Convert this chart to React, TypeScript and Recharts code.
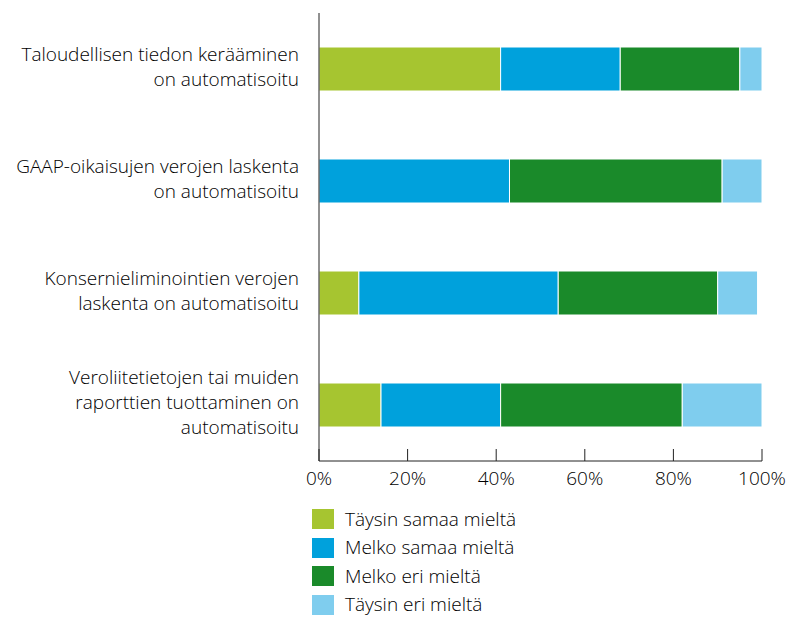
import { Bar, BarChart, Legend, XAxis, YAxis } from "recharts";

const categories = [
  "Taloudellisen tiedon kerääminen on automatisoitu",
  "GAAP-oikaisujen verojen laskenta on automatisoitu",
  "Konsernieliminointien verojen laskenta on automatisoitu",
  "Veroliitetietojen tai muiden raporttien tuottaminen on automatisoitu",
];

// how the category labels wrap in the picture
const categoryLines = [
  ["Taloudellisen tiedon kerääminen", "on automatisoitu"],
  ["GAAP-oikaisujen verojen laskenta", "on automatisoitu"],
  ["Konsernieliminointien verojen", "laskenta on automatisoitu"],
  ["Veroliitetietojen tai muiden", "raporttien tuottaminen on", "automatisoitu"],
];

const taysinSamaa = [41, 0, 9, 14];
const melkoSamaa = [27, 43, 45, 27];
const melkoEri = [27, 48, 36, 41];
const taysinEri = [5, 10, 9, 18];

const percentTicks = [0, 20, 40, 60, 80, 100];

const series = [
  { key: "taysinSamaa", name: "Täysin samaa mieltä", color: "#a6c530", values: taysinSamaa },
  { key: "melkoSamaa", name: "Melko samaa mieltä", color: "#00a1dc", values: melkoSamaa },
  { key: "melkoEri", name: "Melko eri mieltä", color: "#1a8a2a", values: melkoEri },
  { key: "taysinEri", name: "Täysin eri mieltä", color: "#7fcdee", values: taysinEri },
];

const data = categories.map((name, i) => {
  const row: Record<string, string | number> = { name };
  series.forEach((s) => {
    row[s.key] = s.values[i];
  });
  return row;
});

const FONT = "'Open Sans', 'DejaVu Sans', sans-serif";
const TEXT = "#000";

function CategoryTick({ x, y, index }: any) {
  const lines = categoryLines[index] ?? [];
  const lineHeight = 25;
  const start = -((lines.length - 1) * lineHeight) / 2 - 1;
  return (
    <text
      x={x}
      y={y}
      textAnchor="end"
      fontFamily={FONT}
      fontWeight={300}
      fontSize={19}
      fill={TEXT}
    >
      {lines.map((line, i) => (
        <tspan key={i} x={x} y={y + start + i * lineHeight + 5}>
          {line}
        </tspan>
      ))}
    </text>
  );
}

function PercentTick({ x, y, payload }: any) {
  return (
    <g>
      <line x1={x} x2={x} y1={y} y2={y - 12} stroke="#222" strokeWidth={1} />
      <text
        x={x}
        y={y + 24}
        textAnchor="middle"
        fontFamily={FONT}
        fontWeight={300}
        fontSize={19}
        fill={TEXT}
      >
        {payload.value}%
      </text>
    </g>
  );
}

function LegendList() {
  return (
    <div style={{ fontFamily: FONT, fontWeight: 300, fontSize: 19, color: TEXT, lineHeight: 1 }}>
      {series.map((s) => (
        <div key={s.key} style={{ display: "flex", alignItems: "center", height: 28.5 }}>
          <span style={{ width: 22, height: 20, background: s.color, marginRight: 11 }} />
          <span>{s.name}</span>
        </div>
      ))}
    </div>
  );
}

export default function App() {
  return (
    <div style={{ position: "absolute", left: 0, top: 0, background: "#fff" }}>
      <BarChart
        width={803}
        height={619}
        data={data}
        layout="vertical"
        margin={{ top: 13, right: 41, bottom: 0, left: 0 }}
      >
        <XAxis
          type="number"
          domain={[0, 100]}
          ticks={percentTicks}
          allowDataOverflow
          height={158}
          tickSize={0}
          tickMargin={0}
          tickLine={false}
          axisLine={{ stroke: "#222" }}
          tick={<PercentTick />}
          interval={0}
        />
        <YAxis
          type="category"
          dataKey="name"
          width={319}
          tickSize={0}
          tickMargin={20}
          tickLine={false}
          axisLine={{ stroke: "#222" }}
          tick={<CategoryTick />}
          interval={0}
        />
        <Legend
          layout="vertical"
          align="center"
          verticalAlign="middle"
          content={<LegendList />}
          wrapperStyle={{ left: 312, top: 505, width: "auto" }}
        />
        {series.map((s) => (
          <Bar
            key={s.key}
            dataKey={s.key}
            name={s.name}
            stackId="a"
            fill={s.color}
            stroke="#fff"
            strokeWidth={1}
            barSize={44}
            isAnimationActive={false}
          />
        ))}
      </BarChart>
    </div>
  );
}
